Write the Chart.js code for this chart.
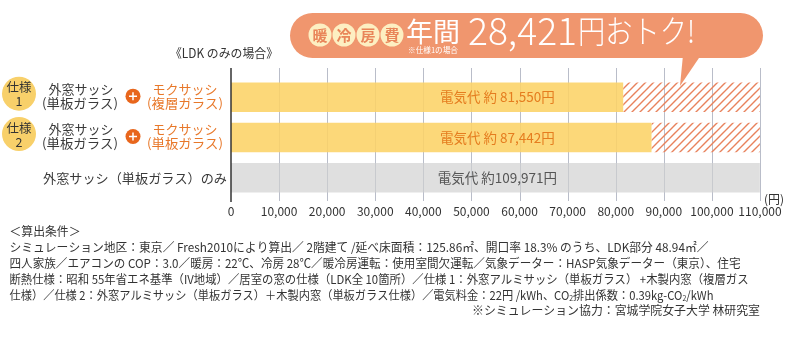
<!DOCTYPE html>
<html><head><meta charset="utf-8">
<script src="https://cdn.jsdelivr.net/npm/chart.js@4/dist/chart.umd.min.js"></script>
<style>html,body{margin:0;padding:0;background:#fff;}canvas{display:block;}</style>
</head><body>
<canvas id="c" width="800" height="344"></canvas>
<script>
// ---------- data ----------
const categories = ['仕様1', '仕様2', '外窓サッシ（単板ガラス）のみ'];
const electricityCost = [81550, 87442, 109971];
const baselineCost = 109971;
const savings = electricityCost.map(v => baselineCost - v);
const xTickValues = [0, 10000, 20000, 30000, 40000, 50000, 60000, 70000, 80000, 90000, 100000, 110000];
const specBadges = ['1', '2', null];
const outerSash = [['外窓サッシ', '(単板ガラス)'], ['外窓サッシ', '(単板ガラス)'], null];
const innerSash = [['モクサッシ', '(複層ガラス)'], ['モクサッシ', '(単板ガラス)'], null];
const bannerSaving = '28,421';
const noteLines = [
  '＜算出条件＞',
  'シミュレーション地区：東京／ Fresh2010により算出／ 2階建て /延べ床面積：125.86㎡、開口率 18.3% のうち、LDK部分 48.94㎡／',
  '四人家族／エアコンの COP：3.0／暖房：22℃、冷房 28℃／暖冷房運転：使用室間欠運転／気象データー：HASP気象データー（東京）、住宅',
  '断熱仕様：昭和 55年省エネ基準（IV地域）／居室の窓の仕様（LDK全 10箇所）／仕様 1：外窓アルミサッシ（単板ガラス） +木製内窓（複層ガス'
];
const noteLine5 = [
  {t: '仕様）／仕様 2：外窓アルミサッシ（単板ガラス）＋木製内窓（単板ガラス仕様）／電気料金：22円 /kWh、CO'},
  {t: '2', sub: true},
  {t: '排出係数：0.39kg-CO'},
  {t: '2', sub: true},
  {t: '/kWh'}
];
const noteCredit = '※シミュレーション協力：宮城学院女子大学 林研究室';

// ---------- helpers ----------
const F = '"Noto Sans CJK JP","Noto Sans",sans-serif';
function txt(ctx, s, x, y, size, color, opt) {
  opt = opt || {};
  ctx.save();
  ctx.font = (opt.weight || 'normal') + ' ' + size + 'px ' + F;
  ctx.fillStyle = color;
  ctx.textBaseline = 'middle';
  ctx.textAlign = 'left';
  const w = ctx.measureText(s).width;
  const sx = opt.width ? opt.width / w : 1;
  const align = opt.align || 'left';
  const left = align === 'left' ? x : (align === 'center' ? x - w * sx / 2 : x - w * sx);
  ctx.translate(left, y);
  ctx.scale(sx, 1);
  ctx.fillText(s, 0, 0);
  ctx.restore();
}
function rich(ctx, segs, x, y, size, color, width) {
  ctx.save();
  ctx.fillStyle = color;
  ctx.textBaseline = 'middle';
  ctx.textAlign = 'left';
  let total = 0;
  const ws = segs.map(s => {
    ctx.font = (s.sub ? size * 0.62 : size) + 'px ' + F;
    const w = ctx.measureText(s.t).width; total += w; return w;
  });
  const sx = width / total;
  ctx.translate(x, y);
  ctx.scale(sx, 1);
  let cx = 0;
  segs.forEach((s, i) => {
    ctx.font = (s.sub ? size * 0.62 : size) + 'px ' + F;
    ctx.fillText(s.t, cx, s.sub ? 3.5 : 0);
    cx += ws[i];
  });
  ctx.restore();
}
function fmt(v) { return v.toLocaleString('en-US'); }

// hatch pattern
function makeHatch() {
  const p = document.createElement('canvas');
  p.width = 8; p.height = 8;
  const g = p.getContext('2d');
  g.strokeStyle = '#e8825c';
  g.lineWidth = 1.4;
  g.beginPath();
  g.moveTo(-1, 9); g.lineTo(9, -1);
  g.moveTo(-1, 1); g.lineTo(1, -1);
  g.moveTo(7, 9); g.lineTo(9, 7);
  g.stroke();
  return document.getElementById('c').getContext('2d').createPattern(p, 'repeat');
}
const hatch = makeHatch();

const YELLOW = 'rgba(252,211,102,0.88)';
const GRAY = 'rgba(208,208,208,0.68)';

// ---------- plugin: grid, axis line, labels, banner, notes ----------
const decor = {
  id: 'decor',
  beforeDatasetsDraw(chart) {
    const ctx = chart.ctx, xs = chart.scales.x, area = chart.chartArea;
    ctx.save();
    ctx.strokeStyle = '#b9bdc9';
    ctx.lineWidth = 1;
    xs.ticks.forEach(t => {
      if (t.value === 0) return;
      const x = Math.round(xs.getPixelForValue(t.value)) + 0.5;
      ctx.beginPath(); ctx.moveTo(x, 68); ctx.lineTo(x, area.bottom + 3); ctx.stroke();
    });
    ctx.restore();
  },
  afterDatasetsDraw(chart) {
    const ctx = chart.ctx, xs = chart.scales.x, ys = chart.scales.y, area = chart.chartArea;
    // y axis line
    ctx.save();
    ctx.strokeStyle = '#333';
    ctx.lineWidth = 1.5;
    const x0 = xs.getPixelForValue(0);
    ctx.beginPath(); ctx.moveTo(x0, 68); ctx.lineTo(x0, area.bottom + 4); ctx.stroke();
    ctx.restore();
    // bar value labels
    categories.forEach((c, i) => {
      const y = ys.getPixelForValue(i);
      const v = electricityCost[i];
      const s = '電気代 約' + (v < 100000 ? ' ' : '') + fmt(v) + '円';
      txt(ctx, s, xs.getPixelForValue(baselineCost / 2) + 2, y, 13.5, i < 2 ? '#e57d1f' : '#555', {align: 'center'});
    });
    // unit
    txt(ctx, '(円)', area.right + 4, area.bottom + 1, 12, '#333');
    // row labels
    categories.forEach((c, i) => {
      const y = ys.getPixelForValue(i);
      if (specBadges[i]) {
        const cy = y - 3.5;
        ctx.save();
        ctx.fillStyle = '#f8d06a';
        ctx.beginPath(); ctx.arc(19, cy, 17, 0, Math.PI * 2); ctx.fill();
        ctx.restore();
        txt(ctx, '仕様', 19, cy - 6, 12.5, '#333', {align: 'center'});
        txt(ctx, specBadges[i], 19, cy + 8, 12.5, '#333', {align: 'center'});
      }
      if (outerSash[i]) {
        txt(ctx, outerSash[i][0], 81, y - 8, 13, '#3a3a3a', {align: 'center'});
        txt(ctx, outerSash[i][1], 80, y + 6, 13, '#3a3a3a', {align: 'center', width: 76});
        ctx.save();
        ctx.fillStyle = '#e8661c';
        ctx.beginPath(); ctx.arc(133, y - 1, 7.5, 0, Math.PI * 2); ctx.fill();
        ctx.strokeStyle = '#fff'; ctx.lineWidth = 1.5;
        ctx.beginPath(); ctx.moveTo(129, y - 1); ctx.lineTo(137, y - 1);
        ctx.moveTo(133, y - 5); ctx.lineTo(133, y + 3); ctx.stroke();
        ctx.restore();
        txt(ctx, innerSash[i][0], 185, y - 8, 13, '#e8782a', {align: 'center'});
        txt(ctx, innerSash[i][1], 185, y + 6, 13, '#e8782a', {align: 'center', width: 76});
      } else {
        txt(ctx, c, 227, y, 13, '#3a3a3a', {align: 'right', width: 184});
      }
    });
  },
  afterDraw(chart) {
    const ctx = chart.ctx;
    // caption
    txt(ctx, '《LDK のみの場合》', 170, 53, 12.5, '#333', {width: 108});
    // banner pill
    const L = 290, T = 13, R = 763, B = 58, r = (B - T) / 2;
    ctx.save();
    ctx.fillStyle = '#f0966e';
    ctx.beginPath();
    ctx.moveTo(L + r, T); ctx.lineTo(R - r, T);
    ctx.arc(R - r, T + r, r, -Math.PI / 2, Math.PI / 2);
    ctx.lineTo(L + r, B);
    ctx.arc(L + r, T + r, r, Math.PI / 2, Math.PI * 1.5);
    ctx.closePath(); ctx.fill();
    // tail
    ctx.beginPath(); ctx.moveTo(683, 55); ctx.lineTo(701, 55); ctx.lineTo(680, 86); ctx.closePath(); ctx.fill();
    // circles
    ['暖', '冷', '房', '費'].forEach((ch, k) => {
      const cx = 320 + k * 24;
      ctx.fillStyle = '#fdefc2';
      ctx.beginPath(); ctx.arc(cx, 35, 11.5, 0, Math.PI * 2); ctx.fill();
    });
    ctx.restore();
    ['暖', '冷', '房', '費'].forEach((ch, k) => {
      txt(ctx, ch, 320 + k * 24, 35, 15, '#e98559', {align: 'center', weight: 'bold'});
    });
    txt(ctx, '年間', 406, 31.5, 27, '#fff', {width: 54});
    txt(ctx, '※仕様1の場合', 408, 50, 7.5, '#fff', {width: 50});
    txt(ctx, bannerSaving, 468, 31, 38, '#fff', {width: 109, weight: '300'});
    txt(ctx, '円おトク!', 578, 31, 32, '#fff', {width: 117, weight: '300'});
    // notes
    const ys = [231, 247, 263, 279];
    const widths = [71, 699, 731, 739];
    noteLines.forEach((s, i) => txt(ctx, s, 9.5, ys[i], 12, '#333', {width: widths[i]}));
    rich(ctx, noteLine5, 9.5, 295, 12, '#333', 704);
    txt(ctx, noteCredit, 760, 310, 12, '#333', {align: 'right', width: 288});
  }
};

new Chart(document.getElementById('c'), {
  type: 'bar',
  data: {
    labels: categories,
    datasets: [
      {label: '電気代', data: electricityCost, backgroundColor: [YELLOW, YELLOW, GRAY], borderWidth: 0},
      {label: '削減', data: savings, backgroundColor: hatch, borderWidth: 0}
    ]
  },
  options: {
    indexAxis: 'y',
    responsive: false,
    animation: false,
    devicePixelRatio: 1,
    barPercentage: 0.73,
    categoryPercentage: 1,
    layout: {padding: {left: 231, right: 40, top: 77, bottom: 126}},
    plugins: {legend: {display: false}, tooltip: {enabled: false}},
    scales: {
      x: {
        type: 'linear', stacked: true, min: 0, max: 110000,
        grid: {display: false, drawTicks: false},
        border: {display: false},
        afterBuildTicks: s => { s.ticks = xTickValues.map(v => ({value: v})); },
        afterFit: s => { s.height = 20; },
        ticks: {
          autoSkip: false, maxRotation: 0, minRotation: 0, padding: 6,
          color: '#333', font: {size: 12, family: F},
          callback: v => fmt(v)
        }
      },
      y: {stacked: true, display: false}
    }
  },
  plugins: [decor]
});
</script>
</body></html>
